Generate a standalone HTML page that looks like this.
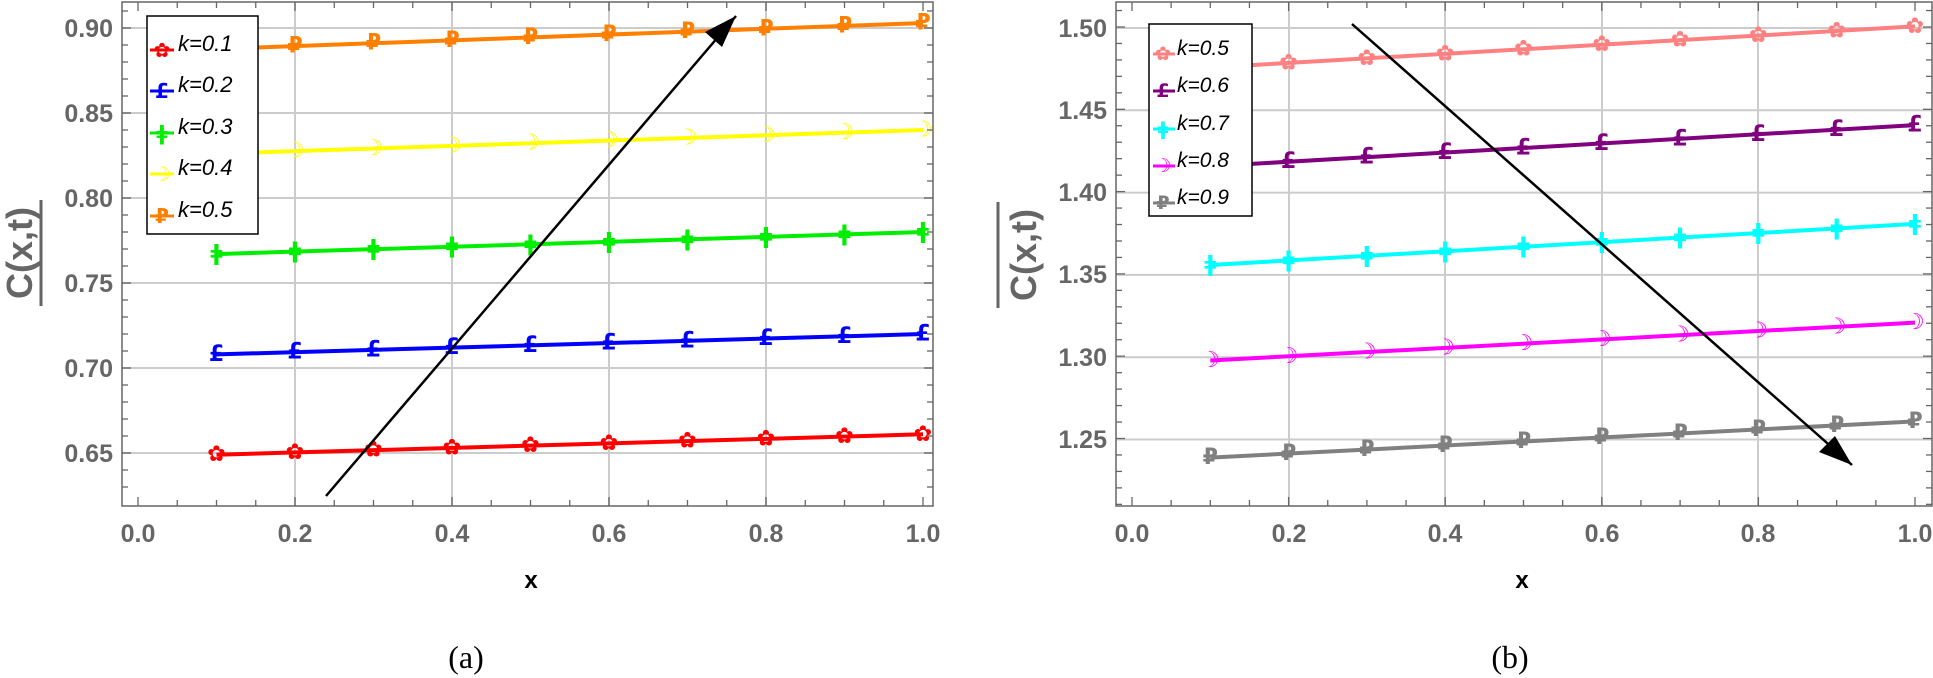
<!DOCTYPE html>
<html><head><meta charset="utf-8"><style>
html,body{margin:0;padding:0;background:#fff;}
svg{display:block;}
.tl{font-family:"Liberation Sans",sans-serif;font-weight:bold;font-size:25px;fill:#666;}
.lg{font-family:"Liberation Sans",sans-serif;font-style:italic;font-size:22px;fill:#000;}
.mk{font-family:"DejaVu Sans",sans-serif;font-weight:bold;text-anchor:middle;dominant-baseline:central;}
</style></head><body>
<svg id="s" width="1933" height="678" viewBox="0 0 1933 678" xmlns="http://www.w3.org/2000/svg">
<g id="grid"></g>
<g id="series"></g>
<rect x="122" y="2" width="811" height="504" fill="none" stroke="#666" stroke-width="1.5"/>
<rect x="1116" y="2" width="816" height="504" fill="none" stroke="#666" stroke-width="1.5"/>
<g id="ticks"></g>
<g class="tl" text-anchor="end">
<text x="113" y="37">0.90</text><text x="113" y="122">0.85</text><text x="113" y="207">0.80</text>
<text x="113" y="292">0.75</text><text x="113" y="377">0.70</text><text x="113" y="462">0.65</text>
<text x="1107" y="37">1.50</text><text x="1107" y="119">1.45</text><text x="1107" y="201">1.40</text>
<text x="1107" y="283">1.35</text><text x="1107" y="366">1.30</text><text x="1107" y="448">1.25</text>
</g>
<g class="tl" text-anchor="middle">
<text x="138" y="542">0.0</text><text x="295" y="542">0.2</text><text x="452" y="542">0.4</text>
<text x="609" y="542">0.6</text><text x="766" y="542">0.8</text><text x="923" y="542">1.0</text>
<text x="1132" y="542">0.0</text><text x="1289" y="542">0.2</text><text x="1445" y="542">0.4</text>
<text x="1602" y="542">0.6</text><text x="1758" y="542">0.8</text><text x="1915" y="542">1.0</text>
</g>
<text x="531" y="588" font-family="Liberation Sans,sans-serif" font-weight="bold" font-size="24" fill="#000" text-anchor="middle">x</text>
<text x="1522" y="588" font-family="Liberation Sans,sans-serif" font-weight="bold" font-size="24" fill="#000" text-anchor="middle">x</text>
<text x="466" y="668" font-family="Liberation Serif,serif" font-size="32" fill="#000" text-anchor="middle">(a)</text>
<text x="1510" y="668" font-family="Liberation Serif,serif" font-size="32" fill="#000" text-anchor="middle">(b)</text>
<text transform="translate(32,253) rotate(-90)" font-family="Liberation Sans,sans-serif" font-weight="bold" font-size="36" fill="#666" text-anchor="middle">C(x,t)</text>
<line x1="41" y1="200" x2="41" y2="306" stroke="#666" stroke-width="3"/>
<text transform="translate(1036,255) rotate(-90)" font-family="Liberation Sans,sans-serif" font-weight="bold" font-size="36" fill="#666" text-anchor="middle">C(x,t)</text>
<line x1="998" y1="202" x2="998" y2="308" stroke="#666" stroke-width="3"/>
<line x1="326" y1="496" x2="736" y2="16" stroke="#000" stroke-width="2.5"/>
<path d="M736,16 L722,47 L705,32 z" fill="#000"/>
<line x1="1352" y1="24" x2="1852" y2="465" stroke="#000" stroke-width="2.5"/>
<path d="M1852,465 L1819,452 L1835,436 z" fill="#000"/>
<rect x="147" y="16" width="111" height="218" fill="#fff" stroke="#000" stroke-width="1.5"/>
<g class="lg">
<text x="178" y="51">k=0.1</text><text x="178" y="92">k=0.2</text><text x="178" y="134">k=0.3</text>
<text x="178" y="175">k=0.4</text><text x="178" y="217">k=0.5</text>
</g>
<rect x="1149" y="24" width="103" height="192" fill="#fff" stroke="#000" stroke-width="1.5"/>
<g class="lg">
<text x="1177" y="55" font-size="21">k=0.5</text><text x="1177" y="92" font-size="21">k=0.6</text><text x="1177" y="130" font-size="21">k=0.7</text>
<text x="1177" y="167" font-size="21">k=0.8</text><text x="1177" y="204" font-size="21">k=0.9</text>
</g>
<g id="lgm"></g>
</svg>
<script>
var NS="http://www.w3.org/2000/svg";
function el(p,t,a,txt){var e=document.createElementNS(NS,t);for(var k in a)e.setAttribute(k,a[k]);if(txt)e.textContent=txt;document.getElementById(p).appendChild(e);return e;}
[295,452,609,766].forEach(function(x){el("grid","line",{x1:x,y1:2,x2:x,y2:506,stroke:"#ccc","stroke-width":2});});
[28,113,198,283,368,453].forEach(function(y){el("grid","line",{x1:122,y1:y,x2:933,y2:y,stroke:"#ccc","stroke-width":2});});
[1289,1445,1602,1758].forEach(function(x){el("grid","line",{x1:x,y1:2,x2:x,y2:506,stroke:"#ccc","stroke-width":2});});
for(var i=0;i<6;i++){var y=28+i*82.3;el("grid","line",{x1:1116,y1:y,x2:1932,y2:y,stroke:"#ccc","stroke-width":2});}
function xt(x0,sc){for(var i=0;i<=20;i++){var x=x0+sc*i*0.05;var len=(i%4==0)?9:6;
 el("ticks","line",{x1:x,y1:506,x2:x,y2:506-len,stroke:"#666","stroke-width":1.3});
 el("ticks","line",{x1:x,y1:2,x2:x,y2:2+len,stroke:"#666","stroke-width":1.3});}}
xt(138,785);xt(1132,783);
for(var y=453+17*2;y>0;y-=17){var big=Math.abs((453-y)%85)<1;var len=big?9:6;
 el("ticks","line",{x1:122,y1:y,x2:122+len,y2:y,stroke:"#666","stroke-width":1.3});
 el("ticks","line",{x1:933,y1:y,x2:933-len,y2:y,stroke:"#666","stroke-width":1.3});}
for(var j=-4;j<=30;j++){var y=438.5-j*16.46;if(y<3||y>505)continue;var len=(j%5==0)?9:6;
 el("ticks","line",{x1:1116,y1:y,x2:1116+len,y2:y,stroke:"#666","stroke-width":1.3});
 el("ticks","line",{x1:1932,y1:y,x2:1932-len,y2:y,stroke:"#666","stroke-width":1.3});}
var G=["\u273F","\u00A3","\u01C2","\u263D","\u20BD"];
var left=[["#ff0000",454.7,434.3],["#0000ff",354.4,334],["#00ee00",254.1,232],["#ffff00",153.8,130],["#ff8000",49,23]];
var right=[["#ff8080",67.5,26.4],["#800080",166.3,125.1],["#00ffff",265,223.9],["#ff00ff",360.5,322.6],["#808080",457.6,421.4]];
function ser(arr,x0,sc){arr.forEach(function(s,k){var xa=x0+sc*0.1,xb=x0+sc;
 el("series","line",{x1:xa,y1:s[1],x2:xb,y2:s[2],stroke:s[0],"stroke-width":4});
 for(var i=1;i<=10;i++){var x=x0+sc*i/10;var y=s[1]+(s[2]-s[1])*(i-1)/9;
  el("series","text",{x:x,y:y,"class":"mk",fill:s[0],"font-size":22},G[k]);}});}
ser(left,138,785);ser(right,1132,783);
var ly=[46,87,129,170,212];
left.forEach(function(s,k){el("lgm","line",{x1:150,y1:ly[k]+4,x2:174,y2:ly[k]+4,stroke:s[0],"stroke-width":3});el("lgm","text",{x:162,y:ly[k]+4,"class":"mk",fill:s[0],"font-size":20},G[k]);});
var ry=[52,89,127,164,201];
right.forEach(function(s,k){el("lgm","line",{x1:1153,y1:ry[k]+2,x2:1175,y2:ry[k]+2,stroke:s[0],"stroke-width":3});el("lgm","text",{x:1163,y:ry[k]+2,"class":"mk",fill:s[0],"font-size":19},G[k]);});
</script>
</body></html>
